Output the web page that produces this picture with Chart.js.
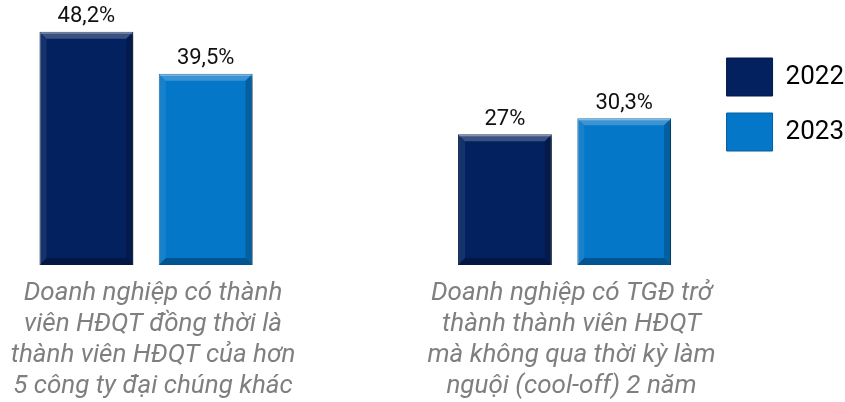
<!DOCTYPE html>
<html>
<head>
<meta charset="utf-8">
<script src="https://cdn.jsdelivr.net/npm/chart.js@4"></script>
<style>
  html, body { margin: 0; padding: 0; background: #fff; }
  #wrap { width: 845px; height: 402px; }
</style>
</head>
<body>
<div id="wrap"><canvas id="barchart"></canvas></div>
<script>
const categories = [
	["Doanh nghiệp có thành", "viên HĐQT đồng thời là", "thành viên HĐQT của hơn", "5 công ty đại chúng khác"],
	["Doanh nghiệp có TGĐ trở", "thành thành viên HĐQT", "mà không qua thời kỳ làm", "nguội (cool-off) 2 năm"]
];
const years = ["2022", "2023"];
const values2022 = [48.2, 27];
const values2023 = [39.5, 30.3];
const barColors = ["#03215f", "#0477c8"];

function formatPct(v) {
	return String(v).replace(".", ",") + "%";
}

// shadow under bars
const shadowPlugin = {
	id: "barShadow",
	beforeDatasetDraw(chart) {
		const ctx = chart.ctx;
		ctx.save();
		ctx.shadowColor = "rgba(0, 0, 0, 0.35)";
		ctx.shadowBlur = 4;
		ctx.shadowOffsetX = 4;
		ctx.shadowOffsetY = 3;
	},
	afterDatasetDraw(chart) {
		chart.ctx.restore();
	}
};

// bevel edges + value labels
const bevelPlugin = {
	id: "bevel",
	afterDatasetsDraw(chart) {
		const ctx = chart.ctx;
		const d = 7;
		chart.data.datasets.forEach((ds, i) => {
			chart.getDatasetMeta(i).data.forEach((bar, j) => {
				const x0 = bar.x - bar.width / 2;
				const x1 = bar.x + bar.width / 2;
				const y0 = bar.y;
				const y1 = bar.base;
				const side = (pts, color) => {
					ctx.beginPath();
					ctx.moveTo(pts[0][0], pts[0][1]);
					for (let k = 1; k < pts.length; k++) ctx.lineTo(pts[k][0], pts[k][1]);
					ctx.closePath();
					ctx.fillStyle = color;
					ctx.fill();
				};
				ctx.save();
				side([[x0, y0], [x1, y0], [x1 - d, y0 + d], [x0 + d, y0 + d]], "rgba(255,255,255,0.22)");
				side([[x0, y1], [x1, y1], [x1 - d, y1 - d], [x0 + d, y1 - d]], "rgba(0,0,0,0.28)");
				side([[x0, y0], [x0 + d, y0 + d], [x0 + d, y1 - d], [x0, y1]], "rgba(255,255,255,0.08)");
				side([[x1, y0], [x1 - d, y0 + d], [x1 - d, y1 - d], [x1, y1]], "rgba(0,0,0,0.2)");
				ctx.strokeStyle = "rgba(255,255,255,0.35)";
				ctx.lineWidth = 1;
				ctx.beginPath();
				ctx.moveTo(x0 + 1, y0 + 1.5);
				ctx.lineTo(x1 - 1, y0 + 1.5);
				ctx.stroke();

				ctx.fillStyle = "#111";
				ctx.font = "22px Roboto";
				ctx.textAlign = "center";
				ctx.textBaseline = "bottom";
				ctx.fillText(formatPct(ds.data[j]), bar.x, y0 - 4);
				ctx.restore();
			});
		});
	}
};

const ctx = document.getElementById("barchart").getContext("2d");

let barChart = new Chart(ctx, {
	type: "bar",
	data: {
		labels: categories,
		datasets: [
			{
				label: years[0],
				data: values2022,
				backgroundColor: barColors[0],
				borderColor: "#021a4a",
				borderWidth: 1
			},
			{
				label: years[1],
				data: values2023,
				backgroundColor: barColors[1],
				borderColor: "#045f9e",
				borderWidth: 1
			}
		]
	},
	options: {
		responsive: true,
		maintainAspectRatio: false,
		animation: false,
		categoryPercentage: 0.57,
		barPercentage: 0.786,
		clip: false,
		layout: {
			padding: { top: 23, left: 146, right: -9, bottom: 0 }
		},
		plugins: {
			tooltip: { enabled: false },
			legend: {
				position: "right",
				align: "start",
				fullSize: false,
				title: {
					display: true,
					text: "",
					font: { size: 10, lineHeight: 1 },
					padding: { top: 8, bottom: 0 }
				},
				labels: {
					boxWidth: 46,
					boxHeight: 38,
					padding: 17,
					color: "#000",
					font: { family: "Roboto", size: 26 }
				}
			}
		},
		scales: {
			x: {
				offset: false,
				grid: { display: false, drawTicks: false },
				border: { display: false },
				ticks: {
					padding: 13,
					labelOffset: 7,
					maxRotation: 0,
					autoSkip: false,
					color: "#7f7f7f",
					font: { family: "Roboto", style: "italic", size: 26, lineHeight: 1.19 }
				},
				afterFit: function (scale) {
					scale.height = 137;
					scale.paddingLeft = 0;
					scale.paddingRight = 0;
				}
			},
			y: {
				position: "right",
				min: 0,
				max: 50,
				grid: { display: false, drawTicks: false },
				border: { display: false },
				ticks: { display: false },
				afterFit: function (scale) {
					scale.width = 145;
				}
			}
		}
	},
	plugins: [shadowPlugin, bevelPlugin]
});
</script>
</body>
</html>
